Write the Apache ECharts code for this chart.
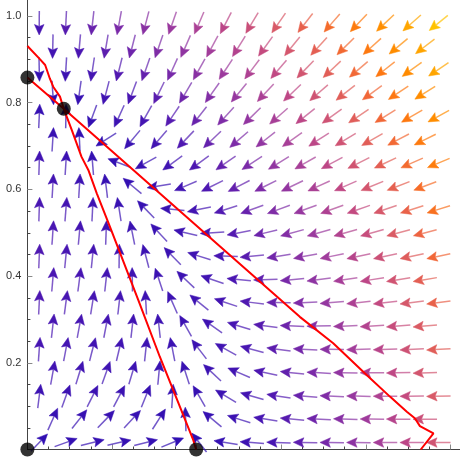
<!DOCTYPE html>
<html>
<head>
<meta charset="utf-8">
<script src="https://cdn.jsdelivr.net/npm/echarts@6/dist/echarts.min.js"></script>
<style>
html, body { margin: 0; padding: 0; background: #fff; }
#main { width: 460px; height: 459px; }
</style>
</head>
<body>
<div id="main"></div>
<script>
var myChart = echarts.init(document.getElementById('main'));

// equilibrium points (black dots)
var eqX = [0, 0, 0.086, 0.399];
var eqY = [0, 0.858, 0.786, 0];

// nullclines as drawn (red)
var nullAX = [0, 0.030, 0.042, 0.053, 0.061, 0.077, 0.086, 0.105, 0.128, 0.144, 0.164, 0.195, 0.262, 0.313, 0.392, 0.399];
var nullAY = [0.931, 0.900, 0.887, 0.856, 0.837, 0.814, 0.786, 0.737, 0.675, 0.645, 0.591, 0.514, 0.345, 0.214, 0.022, 0];
var nullBX = [0, 0.086, 0.644, 0.723, 0.802, 0.857, 0.897, 0.916, 0.928, 0.960, 0.930];
var nullBY = [0.858, 0.786, 0.306, 0.245, 0.172, 0.122, 0.087, 0.072, 0.054, 0.037, 0];

// competition model fitted to the picture:
// x' = r1 x (1 - x/ax - y/ay),  y' = r2 y (1 - x/bx - y/by)
var rates = [1, 1.7];
var xNullIntercepts = [0.4, 1.0];
var yNullIntercepts = [1.0, 0.86];

// sample points (staggered grid)
var rowY = [0.016, 0.070, 0.123, 0.177, 0.231, 0.285, 0.339, 0.392, 0.446, 0.500,
            0.554, 0.608, 0.661, 0.715, 0.769, 0.823, 0.877, 0.930, 0.984];
var evenColX = [0.028, 0.091, 0.154, 0.217, 0.280, 0.343, 0.406, 0.469,
                0.531, 0.594, 0.657, 0.720, 0.783, 0.846, 0.909, 0.972];
var oddColX = [0.060, 0.123, 0.186, 0.248, 0.311, 0.374, 0.437, 0.500,
               0.563, 0.626, 0.689, 0.752, 0.815, 0.877, 0.940];

// ticks
var majorTicks = [0.2, 0.4, 0.6, 0.8, 1.0];
var minorTicks = [0.05, 0.1, 0.15, 0.25, 0.3, 0.35, 0.45, 0.5, 0.55, 0.65, 0.7, 0.75, 0.85, 0.9, 0.95];

var palette = ['#2f0fb2', '#4a16b2', '#7a2aa8', '#a03c9c', '#c04884', '#d85a68',
               '#ee6440', '#fd7612', '#ff8c00', '#ffa600', '#ffc200'];

// build the field
var field = [];
rowY.forEach(function (y, j) {
    var cols = j % 2 === 0 ? evenColX : oddColX;
    cols.forEach(function (x) {
        var u = rates[0] * x * (1 - x / xNullIntercepts[0] - y / xNullIntercepts[1]);
        var v = rates[1] * y * (1 - x / yNullIntercepts[0] - y / yNullIntercepts[1]);
        field.push([x, y, u, v, Math.sqrt(u * u + v * v)]);
    });
});
var mags = field.map(function (d) { return d[4]; });

function zip(xs, ys) {
    return xs.map(function (x, i) { return [x, ys[i]]; });
}

function renderArrow(params, api) {
    var c = api.coord([api.value(0), api.value(1)]);
    var s = api.size([1, 1]);
    var dx = api.value(2) * s[0], dy = -api.value(3) * s[1];
    var n = Math.sqrt(dx * dx + dy * dy) || 1;
    var ux = dx / n, uy = dy / n;
    var px = -uy, py = ux;
    var half = 12, headLen = 10.5, headW = 4.8, notch = 2;
    var tip = [c[0] + ux * half, c[1] + uy * half];
    var tail = [c[0] - ux * half, c[1] - uy * half];
    var base = [tip[0] - ux * headLen, tip[1] - uy * headLen];
    var color = api.visual('color');
    return {
        type: 'group',
        children: [
            {
                type: 'line',
                shape: { x1: tail[0], y1: tail[1], x2: base[0] + ux * notch, y2: base[1] + uy * notch },
                style: { stroke: color, lineWidth: 1.5, opacity: 0.7 }
            },
            {
                type: 'polygon',
                shape: {
                    points: [
                        tip,
                        [base[0] + px * headW, base[1] + py * headW],
                        [base[0] + ux * notch, base[1] + uy * notch],
                        [base[0] - px * headW, base[1] - py * headW]
                    ]
                },
                style: { fill: color, stroke: color, lineWidth: 0.5 }
            }
        ]
    };
}

var axisColor = '#444';

var option = {
    animation: false,
    backgroundColor: '#fff',
    grid: {
        left: 27.4,
        right: 0,
        top: 0,
        bottom: 9.5,
        outerBoundsMode: 'none'
    },
    visualMap: {
        show: false,
        type: 'continuous',
        seriesIndex: 0,
        dimension: 4,
        min: Math.min.apply(null, mags),
        max: Math.max.apply(null, mags),
        inRange: { color: palette }
    },
    xAxis: [
        {
            type: 'value',
            min: 0,
            max: 1.0227,
            position: 'bottom',
            axisLine: { onZero: false, lineStyle: { color: axisColor, width: 1 } },
            axisTick: { inside: true, length: 5, customValues: majorTicks, lineStyle: { color: '#888' } },
            axisLabel: { show: false },
            splitLine: { show: false }
        },
        {
            type: 'value',
            min: 0,
            max: 1.0227,
            position: 'bottom',
            axisLine: { show: false },
            axisTick: { inside: true, length: 3, customValues: minorTicks, lineStyle: { color: axisColor } },
            axisLabel: { show: false },
            splitLine: { show: false }
        }
    ],
    yAxis: [
        {
            type: 'value',
            min: 0,
            max: 1.037,
            position: 'left',
            axisLine: { show: true, onZero: false, lineStyle: { color: axisColor, width: 1 } },
            axisTick: { show: true, inside: true, length: 5, customValues: majorTicks, lineStyle: { color: '#888' } },
            axisLabel: {
                customValues: majorTicks,
                formatter: function (v) { return v.toFixed(1); },
                margin: 6,
                fontFamily: 'Liberation Sans',
                fontSize: 11,
                color: '#333'
            },
            splitLine: { show: false }
        },
        {
            type: 'value',
            min: 0,
            max: 1.037,
            position: 'left',
            axisLine: { show: false },
            axisTick: { show: true, inside: true, length: 3, customValues: minorTicks, lineStyle: { color: axisColor } },
            axisLabel: { show: false },
            splitLine: { show: false }
        }
    ],
    series: [
        {
            type: 'custom',
            renderItem: renderArrow,
            clip: false,
            encode: { x: 0, y: 1 },
            data: field,
            z: 2
        },
        {
            type: 'line',
            data: zip(nullAX, nullAY),
            symbol: 'none',
            clip: false,
            lineStyle: { color: '#ff0000', width: 2 },
            z: 3
        },
        {
            type: 'line',
            data: zip(nullBX, nullBY),
            symbol: 'none',
            clip: false,
            lineStyle: { color: '#ff0000', width: 2 },
            z: 3
        },
        {
            type: 'scatter',
            data: zip(eqX, eqY),
            symbolSize: 14,
            clip: false,
            itemStyle: { color: '#000' },
            z: 4
        }
    ]
};

myChart.setOption(option);
</script>
</body>
</html>
